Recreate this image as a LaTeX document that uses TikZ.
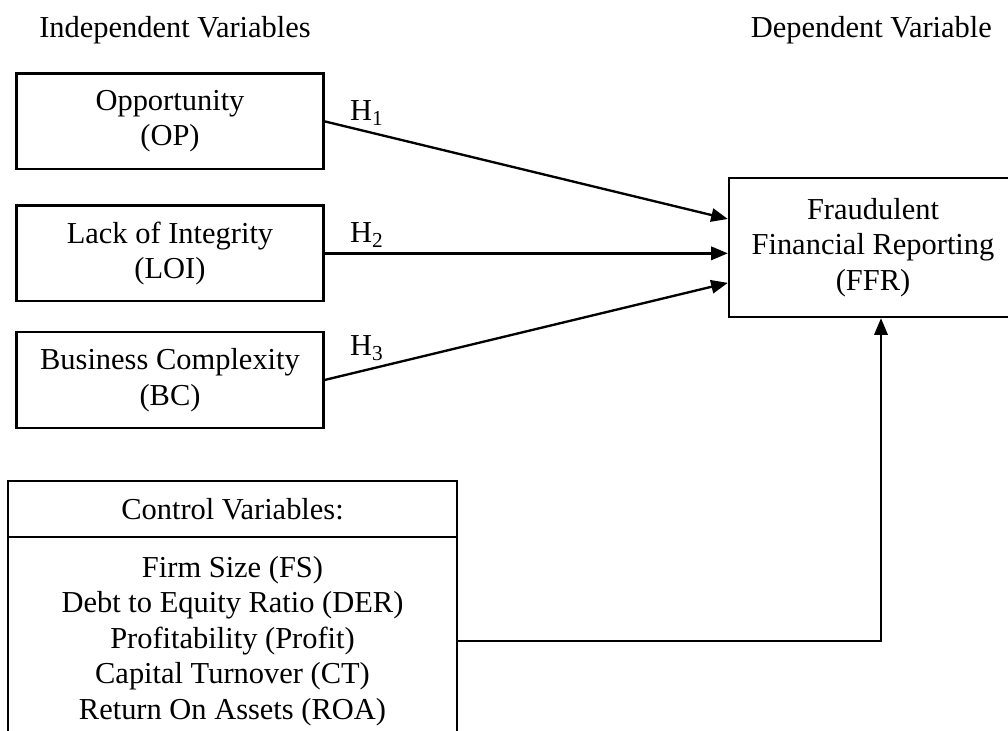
\documentclass[tikz,border=0pt]{standalone}
\usepackage{fontspec}
\setmainfont{Liberation Serif}
\usetikzlibrary{arrows.meta}

\tikzstyle{box}=[rectangle,draw,line width=1pt,align=center,minimum height=1.43cm,minimum width=4.6cm,inner sep=0pt]

\begin{document}
\begin{tikzpicture}[line width=1pt,>={Triangle[length=0.25cm,width=0.2cm]},font=\fontsize{13}{15.2}\selectfont]
\useasboundingbox (0,0) rectangle (15.12,-10.965);
\clip (0,0) rectangle (15.12,-10.965);

\node (indep) at (2.625,-0.45) {Independent Variables};
\node (dep) at (13.07,-0.45) {Dependent Variable};

\node[box] (op) at (2.55,-1.82) {Opportunity\\(OP)};
\node[box] (loi) at (2.55,-3.80) {Lack of Integrity\\(LOI)};
\node[box,minimum height=1.44cm] (bc) at (2.55,-5.70) {Business Complexity\\(BC)};

\node[box,minimum height=2.085cm,minimum width=4.32cm] (ffr) at (13.095,-3.7125) {Fraudulent\\Financial Reporting\\(FFR)};

\node[box,minimum height=0.84cm,minimum width=6.735cm] (ctrlhead) at (3.4875,-7.635) {Control Variables:};
\node[box,minimum height=3.12cm,minimum width=6.735cm] (ctrlbody) at (3.4875,-9.615) {Firm Size (FS)\\Debt to Equity Ratio (DER)\\Profitability (Profit)\\Capital Turnover (CT)\\Return On Assets (ROA)};

\node (h1) at (5.505,-1.695) {H\textsubscript{1}};
\node (h2) at (5.505,-3.525) {H\textsubscript{2}};
\node (h3) at (5.505,-5.22) {H\textsubscript{3}};

\draw[->] (op.east) -- ([yshift=0.4275cm] ffr.west);
\draw[->] (loi.east) -- (loi.east -| ffr.west);
\draw[->] (bc.east) -- ([yshift=-0.53cm] ffr.west);

\coordinate (ffrin) at ([xshift=0.12cm] ffr.south);
\draw[->] (ctrlbody.east) -| (ffrin);
\end{tikzpicture}
\end{document}
